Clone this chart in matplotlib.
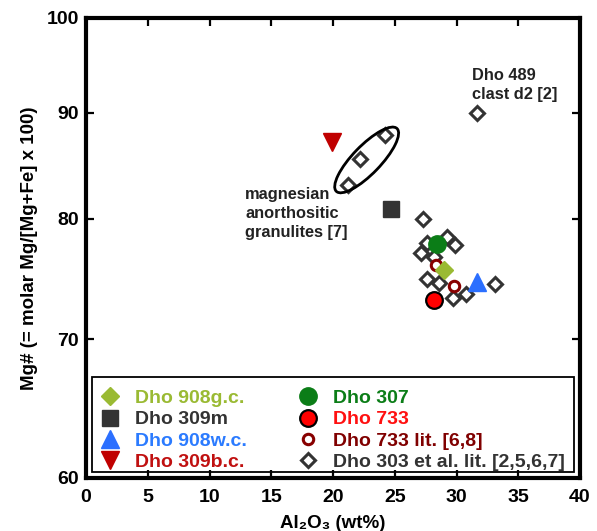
import numpy as np
import matplotlib.pyplot as plt
from matplotlib.patches import Ellipse, Rectangle
from matplotlib.ticker import NullLocator, FixedLocator, FixedFormatter

plt.rcParams['font.family'] = ['Liberation Sans', 'DejaVu Sans']
plt.rcParams['font.weight'] = 'bold'

# sample data: Al2O3 (wt%) and Mg#
dho908gc_x = [28.95]
dho908gc_y = [75.6]
dho309m_x = [24.7]
dho309m_y = [80.9]
dho908wc_x = [31.7]
dho908wc_y = [74.6]
dho309bc_x = [19.9]
dho309bc_y = [87.1]
dho307_x = [28.45]
dho307_y = [77.8]
dho733_x = [28.2]
dho733_y = [73.1]
dho733lit_x = [28.3, 29.8]
dho733lit_y = [76.0, 74.3]
# Dho 303 et al. literature data
lit_x = [27.25, 29.2, 29.85, 27.6, 27.15, 28.2, 27.6, 28.55, 29.75, 30.8, 33.1, 31.7]
lit_y = [80.0, 78.4, 77.7, 77.9, 77.0, 76.7, 74.8, 74.5, 73.3, 73.6, 74.4, 90.0]
# magnesian anorthositic granulites [7] (circled)
gran_x = [21.25, 22.2, 24.2]
gran_y = [83.1, 85.5, 87.8]

xticks = [0, 5, 10, 15, 20, 25, 30, 35, 40]
yticks = [60, 70, 80, 90, 100]

fig = plt.figure(figsize=(5.97, 5.31), dpi=100)
ax = fig.add_axes([86 / 597, 1 - 478 / 531, (580 - 86) / 597, (478 - 18) / 531])

ax.set_yscale('log')
ax.set_xlim(0, 40)
ax.set_ylim(60, 100)

dgray = '#333333'
# literature diamonds first (underneath)
ax.plot(lit_x, lit_y, 'D', ms=7, mfc='white', mec=dgray, mew=2.2, ls='none', zorder=3)
ax.plot(gran_x, gran_y, 'D', ms=7, mfc='white', mec=dgray, mew=2.2, ls='none', zorder=3)
h_lit = ax.plot([], [], 'D', ms=7, mfc='white', mec=dgray, mew=2.2, ls='none',
                label='Dho 303 et al. lit. [2,5,6,7]')[0]

h_307 = ax.plot(dho307_x, dho307_y, 'o', ms=12.5, color='#0b7d17', ls='none', zorder=4,
                label='Dho 307')[0]
h_733lit = ax.plot(dho733lit_x, dho733lit_y, 'o', ms=7.5, mfc='white', mec='#880000', mew=2.2,
                   ls='none', zorder=4, label='Dho 733 lit. [6,8]')[0]
h_908gc = ax.plot(dho908gc_x, dho908gc_y, 'D', ms=9, color='#9aba33', ls='none', zorder=5,
                  label='Dho 908g.c.')[0]
h_309m = ax.plot(dho309m_x, dho309m_y, 's', ms=11.5, color=dgray, ls='none', zorder=5,
                 label='Dho 309m')[0]
h_908wc = ax.plot(dho908wc_x, dho908wc_y, '^', ms=13, color='#2b6fff', ls='none', zorder=5,
                  label='Dho 908w.c.')[0]
h_309bc = ax.plot(dho309bc_x, dho309bc_y, 'v', ms=13, color='#c00000', ls='none', zorder=5,
                  label='Dho 309b.c.')[0]
h_733 = ax.plot(dho733_x, dho733_y, 'o', ms=12, mfc='#ff0000', mec='black', mew=1.6, ls='none',
                zorder=5, label='Dho 733')[0]

# axes styling
for sp in ax.spines.values():
    sp.set_linewidth(3)
ax.xaxis.set_major_locator(FixedLocator(xticks))
ax.yaxis.set_major_locator(FixedLocator(yticks))
ax.yaxis.set_major_formatter(FixedFormatter([str(v) for v in yticks]))
ax.yaxis.set_minor_locator(NullLocator())
ax.tick_params(direction='in', length=6, width=1.6, top=True, right=True, labelsize=14)
ax.tick_params(axis='x', pad=8)
ax.tick_params(axis='y', pad=5)
for lab in ax.get_xticklabels() + ax.get_yticklabels():
    lab.set_fontweight('bold')

ax.set_xlabel('Al₂O₃ (wt%)', fontsize=13.5, fontweight='bold', labelpad=6.5)
ax.set_ylabel('Mg# (= molar Mg/[Mg+Fe] x 100)', fontsize=13.5, fontweight='bold', labelpad=6)

# annotations
ax.text(12.9, 80.5, 'magnesian\nanorthositic\ngranulites [7]', fontsize=11.8, fontweight='bold',
        va='center', ha='left', color='#222222', linespacing=1.32)
ax.text(31.25, 92.8, 'Dho 489\nclast d2 [2]', fontsize=11.8, fontweight='bold',
        va='center', ha='left', color='#222222', linespacing=1.3)

# ellipse around granulite points, built in pixel space
pts = ax.transData.transform(np.column_stack([gran_x, gran_y])) / fig.dpi
p0, p2 = pts[0], pts[-1]
cen = (p0 + p2) / 2
span = np.hypot(*(p2 - p0))
ell = Ellipse(cen, width=span * 1.42, height=28 / fig.dpi, angle=46,
              transform=fig.dpi_scale_trans, fill=False, ec='black', lw=2, zorder=6)
ax.add_patch(ell)

# legend box frame
ax.add_patch(Rectangle((0.012, 0.013), 0.976, 0.2066, transform=ax.transAxes, fill=False,
                       ec='black', lw=1.3, zorder=7))

# legend
handles = [h_908gc, h_309m, h_908wc, h_309bc, h_307, h_733, h_733lit, h_lit]
colors = ['#9aba33', dgray, '#2b7bff', '#c01010', '#0b7d17', '#ff1010', '#800000', dgray]
leg = ax.legend(handles=handles, ncol=2, loc='upper left',
                bbox_to_anchor=(0.0265, 0.192), borderaxespad=0, frameon=False,
                prop={'weight': 'bold', 'size': 14}, handlelength=1.15, handletextpad=0.72,
                columnspacing=2.55, labelspacing=0.18, borderpad=0, numpoints=1)
for t, c in zip(leg.get_texts(), colors):
    t.set_color(c)

fig.savefig('out.png', dpi=100)
